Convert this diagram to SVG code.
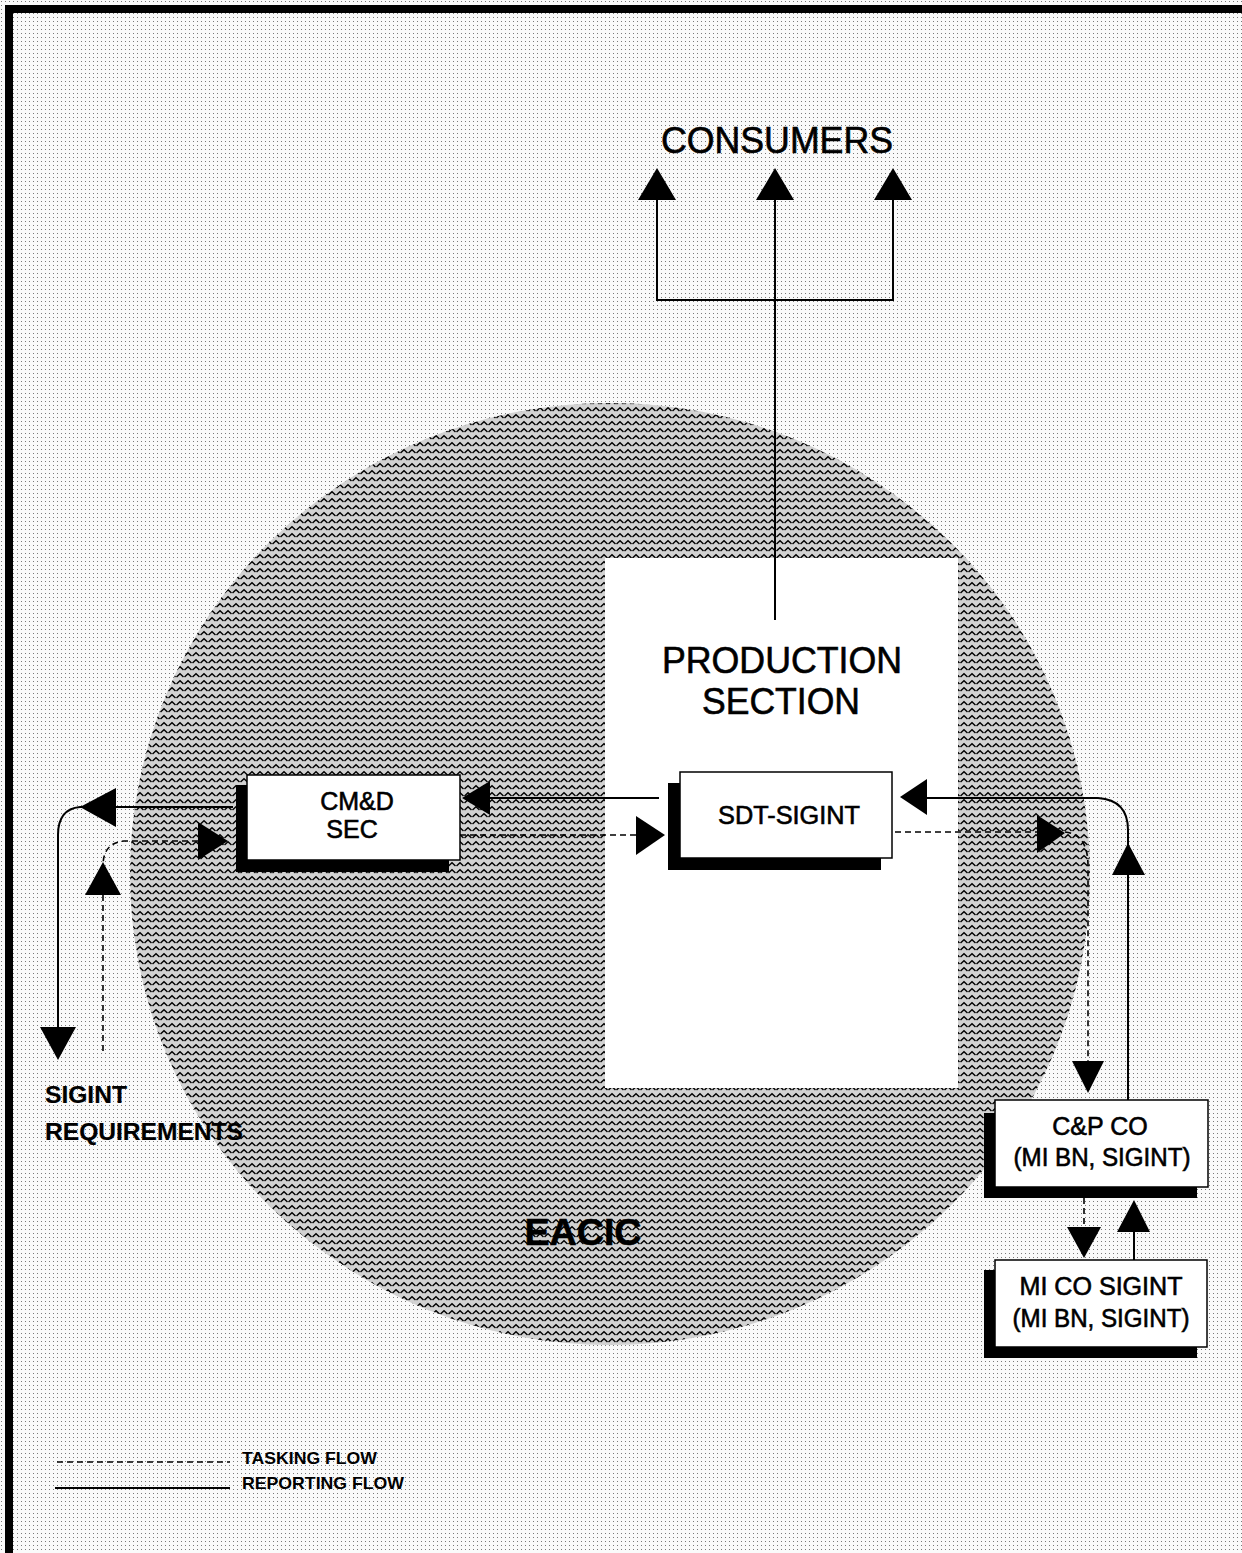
<svg xmlns="http://www.w3.org/2000/svg" width="1242" height="1553" viewBox="0 0 1242 1553">
<style>
text{font-family:"Liberation Sans",Arial,sans-serif;fill:#000;stroke:#000;stroke-width:0.6}
.big{font-size:36px}
.box{font-size:25px;text-anchor:middle}
.lbl{font-size:24px;font-weight:bold;stroke-width:0.2}
.leg{font-size:17px;font-weight:bold;stroke-width:0}
.solid{fill:none;stroke:#000;stroke-width:2}
.dash{fill:none;stroke:#000;stroke-width:1.6;stroke-dasharray:6 4}
.head{fill:#000}
.wbox{fill:#fff;stroke:#000;stroke-width:1.5}
.shadow{fill:#000}
</style>
<defs>
<pattern id="dots" width="4" height="4" patternUnits="userSpaceOnUse">
<rect width="4" height="4" fill="#fafafa"/>
<rect x="1" y="1" width="1" height="1" fill="#7a7a7a"/>
</pattern>
<pattern id="chev" width="8" height="7" patternUnits="userSpaceOnUse">
<rect width="8" height="7" fill="#d2d2d2"/>
<path d="M0.5,5 L4,1.8 L7.5,5" fill="none" stroke="#000" stroke-width="1.5"/>
</pattern>
</defs>
<rect x="0" y="0" width="1242" height="1553" fill="url(#dots)"/>
<path d="M9,1553 V9 H1242" fill="none" stroke="#000" stroke-width="8"/>
<ellipse cx="610" cy="874" rx="480" ry="471" fill="url(#chev)"/>
<rect x="605" y="558" width="353" height="530" fill="#fff"/>
<g id="eacic"><text x="583" y="1245" font-size="36" font-weight="bold" text-anchor="middle" textLength="117" lengthAdjust="spacingAndGlyphs">EACIC</text></g>
<g id="production"><text class="big" x="782" y="673" text-anchor="middle" textLength="240" lengthAdjust="spacingAndGlyphs">PRODUCTION</text><text class="big" x="781" y="714" text-anchor="middle" textLength="158" lengthAdjust="spacingAndGlyphs">SECTION</text></g>
<g id="consumers"><text class="big" x="777" y="153" text-anchor="middle" textLength="232" lengthAdjust="spacingAndGlyphs">CONSUMERS</text></g>
<g id="connectors">
<path class="solid" d="M657,198 V300 H893 V198"/>
<path class="solid" d="M775,198 V620"/>
<polygon class="head" points="657,168 638,200 676,200"/>
<polygon class="head" points="775,168 756,200 794,200"/>
<polygon class="head" points="893,168 874,200 912,200"/>
<path class="solid" d="M490,798 H659"/>
<polygon class="head" points="462,798 490,781 490,815"/>
<path class="dash" d="M460,835 H636"/>
<polygon class="head" points="665,835 636,816 636,855"/>
<path class="solid" d="M927,798 H1098 Q1128,800 1128,830 V1100"/>
<polygon class="head" points="900,797 927,779 927,815"/>
<polygon class="head" points="1128,843 1112,875 1145,875"/>
<path class="dash" d="M895,832 H1065 Q1088,834 1088,866 V1062"/>
<polygon class="head" points="1065,833 1037,815 1037,853"/>
<polygon class="head" points="1088,1093 1072,1061 1104,1061"/>
<path class="dash" d="M1084,1198 V1230"/>
<polygon class="head" points="1084,1258 1067,1227 1101,1227"/>
<path class="solid" d="M1134,1232 V1260"/>
<polygon class="head" points="1134,1200 1117,1232 1150,1232"/>
<path class="solid" d="M233,807 H80 Q58,809 58,835 V1030"/>
<polygon class="head" points="80,807 116,788 116,827"/>
<polygon class="head" points="58,1060 40,1027 76,1027"/>
<path class="dash" d="M198,841 H124 Q103,843 103,866"/>
<path class="dash" d="M103,895 V1055"/>
<polygon class="head" points="228,841 198,822 198,860"/>
<polygon class="head" points="103,862 85,895 121,895"/>
</g>
<g id="cmd">
<rect class="shadow" x="236" y="785" width="213" height="87"/>
<rect class="wbox" x="247" y="775" width="213" height="85"/>
<text class="box" x="357" y="810">CM&amp;D</text>
<text class="box" x="352" y="838">SEC</text>
</g>
<g id="sdt">
<rect class="shadow" x="668" y="783" width="213" height="87"/>
<rect class="wbox" x="680" y="772" width="212" height="86"/>
<text class="box" x="789" y="824" textLength="142" lengthAdjust="spacingAndGlyphs">SDT-SIGINT</text>
</g>
<g id="cp">
<rect class="shadow" x="984" y="1113" width="213" height="85"/>
<rect class="wbox" x="995" y="1100" width="213" height="87"/>
<text class="box" x="1100" y="1135">C&amp;P CO</text>
<text class="box" x="1102" y="1166" textLength="177" lengthAdjust="spacingAndGlyphs">(MI BN, SIGINT)</text>
</g>
<g id="mico">
<rect class="shadow" x="984" y="1270" width="213" height="88"/>
<rect class="wbox" x="995" y="1260" width="212" height="87"/>
<text class="box" x="1101" y="1295" textLength="163" lengthAdjust="spacingAndGlyphs">MI CO SIGINT</text>
<text class="box" x="1101" y="1327" textLength="177" lengthAdjust="spacingAndGlyphs">(MI BN, SIGINT)</text>
</g>
<g id="sigint">
<text class="lbl" x="45" y="1103" textLength="82" lengthAdjust="spacingAndGlyphs">SIGINT</text>
<text class="lbl" x="45" y="1140" textLength="198" lengthAdjust="spacingAndGlyphs">REQUIREMENTS</text>
</g>
<g id="legend">
<path class="dash" d="M57,1462 H230" stroke-dasharray="4 3"/>
<path class="solid" d="M55,1488 H230" stroke-width="1.6"/>
<text class="leg" x="242" y="1464" textLength="135" lengthAdjust="spacingAndGlyphs">TASKING FLOW</text>
<text class="leg" x="242" y="1489" textLength="162" lengthAdjust="spacingAndGlyphs">REPORTING FLOW</text>
</g>
</svg>
